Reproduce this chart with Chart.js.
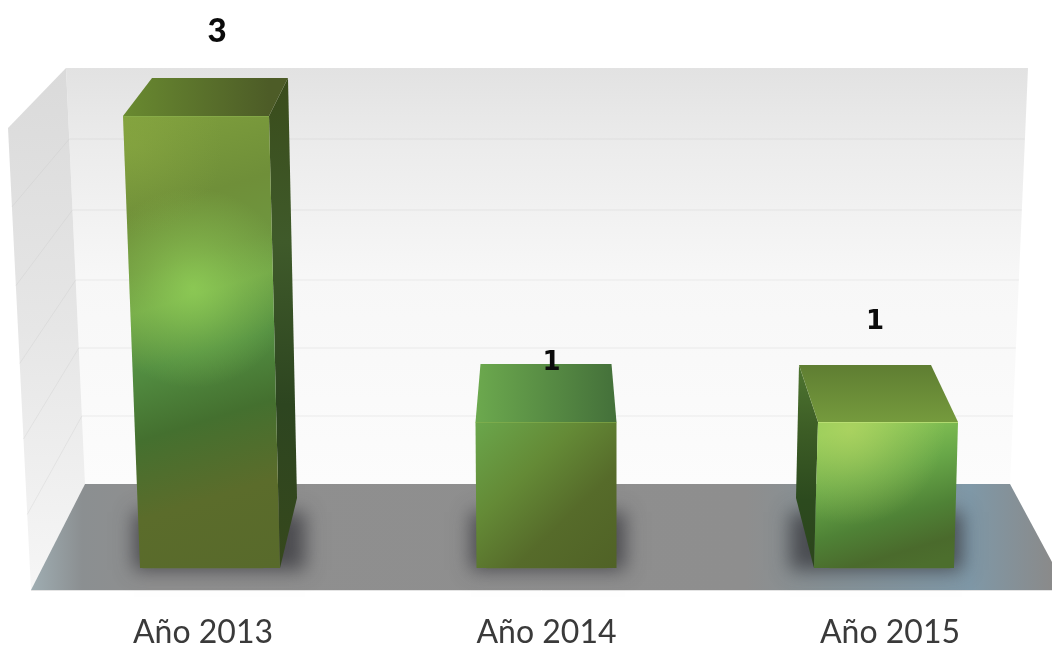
<!DOCTYPE html>
<html>
<head>
<meta charset="utf-8">
<style>
  html, body { margin: 0; padding: 0; background: #fff; }
  #wrap { width: 1052px; height: 646px; }
</style>
<script src="https://cdn.jsdelivr.net/npm/chart.js@4"></script>
</head>
<body>
<div id="wrap"><canvas id="myChart"></canvas></div>
<script>
const categories = ['Año 2013', 'Año 2014', 'Año 2015'];
const values = [3, 1, 1];

// the picture's bars don't start quite at zero, this makes 1 and 3 land right
const yMin = 0.046;
const yMax = 3;

// 3d box of each bar, offsets from the bar element's x / top / base
const boxes = [
  { topL: -80, topR: 66, baseL: -63, baseR: 77, backL: -51, backR: 85, rise: 38, side: 94, sideRise: 70 },
  { topL: -71, topR: 70, baseL: -70, baseR: 70, backL: -66, backR: 65, rise: 58, side: null, sideRise: 70 },
  { topL: -72, topR: 68, baseL: -76, baseR: 64, backL: -91, backR: 41, rise: 57, side: -94, sideRise: 70 }
];

const frontColors = [
  [[0, '#7f9f3d'], [0.2, '#6f8f39'], [0.32, '#6f963f'], [0.4, '#72a547'], [0.52, '#528d41'], [0.66, '#44702f'], [0.82, '#5b6c2b'], [1, '#586a2b']],
  [[0, '#6aa64b'], [0.35, '#648a36'], [0.65, '#566b2a'], [1, '#506226']],
  [[0, '#8dca58'], [0.35, '#68a748'], [0.65, '#4f8236'], [0.88, '#4a6a2c'], [1, '#4c6e2d']]
];
const frontTilt = [70, 70, 22];
const topColors = [
  ['#698a30', '#4d5c27'],
  ['#6ca94e', '#44703a'],
  ['#5f7e32', '#759a3d']
];
const sideColors = [
  ['#3a4c1b', '#3f5a2a', '#2d4520', '#36481c'],
  null,
  ['#4e7530', '#3c5c25', '#2c4a1e', '#2c451c']
];

// where each value label sits
const labelRise = [85, 59, 100];
const labelX = [14, 5, -15];
const labelFonts = ['900 33px Lato', 'bold 26px "DejaVu Sans"', 'bold 26px "DejaVu Sans"'];

const wallLines = [139, 210, 280, 348, 416];

function poly(ctx, pts) {
  ctx.beginPath();
  pts.forEach((p, i) => (i ? ctx.lineTo(p[0], p[1]) : ctx.moveTo(p[0], p[1])));
  ctx.closePath();
}

function linear(ctx, x0, y0, x1, y1, stops) {
  const g = ctx.createLinearGradient(x0, y0, x1, y1);
  stops.forEach(s => g.addColorStop(s[0], s[1]));
  return g;
}

function glow(ctx, pts, cx, cy, r, rgb, alpha) {
  ctx.save();
  poly(ctx, pts);
  ctx.clip();
  const g = ctx.createRadialGradient(cx, cy, 0, cx, cy, r);
  g.addColorStop(0, 'rgba(' + rgb + ',' + alpha + ')');
  g.addColorStop(0.5, 'rgba(' + rgb + ',' + alpha * 0.45 + ')');
  g.addColorStop(1, 'rgba(' + rgb + ',0)');
  ctx.fillStyle = g;
  ctx.fillRect(cx - r, cy - r, 2 * r, 2 * r);
  ctx.restore();
}

const room = {
  id: 'room',
  beforeDraw(chart) {
    const ctx = chart.ctx;
    ctx.save();
    // back wall
    poly(ctx, [[66, 68], [1028, 68], [1010, 484], [85, 484]]);
    ctx.fillStyle = linear(ctx, 0, 68, 0, 484, [[0, '#e2e2e2'], [0.2, '#ececec'], [0.5, '#f7f7f7'], [1, '#fcfcfc']]);
    ctx.fill();
    // left wall
    poly(ctx, [[66, 68], [85, 484], [31, 590], [8, 128]]);
    ctx.fillStyle = linear(ctx, 0, 68, 0, 590, [[0, '#dadada'], [0.5, '#e6e6e6'], [1, '#f6f6f6']]);
    ctx.fill();
    // grid lines on both walls
    ctx.lineWidth = 1;
    ctx.strokeStyle = 'rgba(190,190,190,0.25)';
    wallLines.forEach(y => {
      const backX = 66 + (y - 68) * 19 / 416;
      const rightX = 1028 - (y - 68) * 18 / 416;
      const frontY = 128 + (y - 68) * 462 / 416;
      const frontX = 8 + (frontY - 128) * 23 / 462;
      ctx.beginPath();
      ctx.moveTo(frontX, frontY);
      ctx.lineTo(backX, y);
      ctx.lineTo(rightX, y);
      ctx.stroke();
    });
    // floor
    poly(ctx, [[85, 484], [1010, 484], [1052, 562], [1052, 590], [31, 590]]);
    ctx.fillStyle = linear(ctx, 31, 0, 1052, 0, [[0, '#9fadb2'], [0.05, '#8b8f91'], [0.12, '#8f8f8f'], [0.7, '#8e8e8e'], [0.78, '#869196'], [0.92, '#7f98a7'], [1, '#8a8a8a']]);
    ctx.fill();
    ctx.strokeStyle = '#e4e4e4';
    ctx.beginPath();
    ctx.moveTo(31, 590.5);
    ctx.lineTo(1052, 590.5);
    ctx.stroke();
    ctx.restore();
  },
  beforeDatasetsDraw(chart) {
    // soft shadows on the floor, shape itself is drawn off canvas
    const ctx = chart.ctx;
    chart.getDatasetMeta(0).data.forEach((bar, i) => {
      const b = boxes[i];
      const base = bar.base;
      const far = 3000;
      const lo = Math.min(b.baseL, b.side === null ? b.baseL : b.side) - 6;
      const hi = Math.max(b.baseR, b.side === null ? b.baseR : b.side) + 8;
      ctx.save();
      ctx.shadowColor = 'rgba(50,50,55,0.72)';
      ctx.shadowBlur = 18;
      ctx.shadowOffsetX = far;
      ctx.shadowOffsetY = 2;
      ctx.fillStyle = '#000';
      poly(ctx, [
        [bar.x + lo - far, base - b.sideRise + 12],
        [bar.x + hi - far, base - b.sideRise + 12],
        [bar.x + hi - far, base],
        [bar.x + lo - far, base]
      ]);
      ctx.fill();
      ctx.restore();
    });
  },
  afterDatasetsDraw(chart) {
    const ctx = chart.ctx;
    chart.getDatasetMeta(0).data.forEach((bar, i) => {
      const b = boxes[i];
      const x = bar.x, top = bar.y, base = bar.base;
      const front = [[x + b.topL, top], [x + b.topR, top], [x + b.baseR, base], [x + b.baseL, base]];
      const lid = [[x + b.topL, top], [x + b.backL, top - b.rise], [x + b.backR, top - b.rise], [x + b.topR, top]];

      // side face
      if (b.side !== null) {
        const edge = b.side > 0 ? b.topR : b.topL;
        const back = b.side > 0 ? b.backR : b.backL;
        const low = b.side > 0 ? b.baseR : b.baseL;
        poly(ctx, [[x + edge, top], [x + back, top - b.rise], [x + b.side, base - b.sideRise], [x + low, base]]);
        ctx.fillStyle = linear(ctx, 0, top - b.rise, 0, base, sideColors[i].map((c, n) => [n / 3, c]));
        ctx.fill();
      }

      // lid
      poly(ctx, lid);
      ctx.fillStyle = i === 2
        ? linear(ctx, 0, top - b.rise, 0, top, [[0, topColors[i][0]], [1, topColors[i][1]]])
        : linear(ctx, x + b.topL, 0, x + b.topR, 0, [[0, topColors[i][0]], [1, topColors[i][1]]]);
      ctx.fill();

      // front face, gradient runs down and to the right
      poly(ctx, front);
      ctx.fillStyle = linear(ctx, x - frontTilt[i], top, x + frontTilt[i], base, frontColors[i]);
      ctx.fill();
      if (i === 0) {
        glow(ctx, front, x - 10, top + 172, 100, '150,215,90', 0.7);
        glow(ctx, front, x - 70, top + 30, 90, '150,180,70', 0.3);
      }
      if (i === 2) glow(ctx, front, x - 40, top + 8, 95, '185,215,100', 0.65);

      // light edge along the top of the front face
      ctx.strokeStyle = i === 2 ? 'rgba(190,225,120,0.8)' : 'rgba(140,180,80,0.55)';
      ctx.lineWidth = 1;
      ctx.beginPath();
      ctx.moveTo(x + b.topL, top + 0.5);
      ctx.lineTo(x + b.topR, top + 0.5);
      ctx.stroke();

      // value label
      ctx.fillStyle = '#0b0b0b';
      ctx.font = labelFonts[i];
      ctx.textAlign = 'center';
      ctx.textBaseline = 'middle';
      ctx.fillText(String(values[i]), x + labelX[i], top - labelRise[i]);
    });
  }
};

new Chart(document.getElementById('myChart'), {
  type: 'bar',
  data: {
    labels: categories,
    datasets: [{
      data: values,
      base: yMin,
      backgroundColor: '#5f7a32',
      barThickness: 120,
      clip: false
    }]
  },
  options: {
    responsive: true,
    maintainAspectRatio: false,
    animation: false,
    layout: { padding: { top: 116, left: 203, right: 162, bottom: 0 } },
    scales: {
      x: {
        offset: false,
        afterFit(scale) { scale.height = 78; },
        grid: { display: false, drawTicks: false },
        border: { display: false },
        ticks: {
          autoSkip: false,
          maxRotation: 0,
          padding: 45,
          color: '#3a3a3a',
          font: { family: 'Lato', size: 32, weight: 400 }
        }
      },
      y: { display: false, min: yMin, max: yMax }
    },
    plugins: { legend: { display: false }, tooltip: { enabled: false } }
  },
  plugins: [room]
});
</script>
</body>
</html>
